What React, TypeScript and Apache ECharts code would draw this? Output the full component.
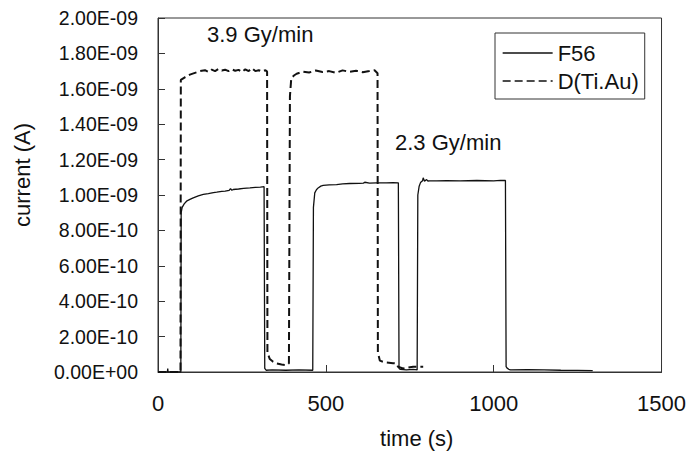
import React, { useEffect, useRef } from "react";
import * as echarts from "echarts";

// Time axis (s)
const xTicks = [0, 500, 1000, 1500];
// Current in nA (label shown in A)
const yMin = 0;
const yMax = 2;
const yInterval = 0.2;

// F56 (solid)
const f56Time = [
  0, 28, 29, 30, 68, 69, 72, 78, 85, 95, 105, 120, 135, 150, 165, 175, 190, 200, 212, 216, 220, 224, 240, 255,
  274, 290, 305, 316, 318, 322, 340, 380, 420, 461, 463, 467, 472, 477, 485, 492, 510, 532, 550, 571, 600, 612,
  616, 630, 651, 680, 700, 716, 718, 722, 740, 760, 772, 774, 778, 782, 788, 790, 794, 800, 804, 810, 830, 860,
  900, 950, 1000, 1020, 1035, 1037, 1040, 1045, 1050, 1100, 1150, 1200, 1250, 1295,
];
const f56Current = [
  0, 0, 0.02, 0, 0, 0.9, 0.93, 0.95, 0.965, 0.975, 0.984, 0.995, 1.003, 1.008, 1.014, 1.016, 1.02, 1.022, 1.026,
  1.036, 1.027, 1.031, 1.034, 1.037, 1.04, 1.043, 1.045, 1.047, 0.02, 0.01, 0.012, 0.01, 0.012, 0.01, 0.93, 1.012,
  1.03, 1.04, 1.05, 1.054, 1.057, 1.059, 1.063, 1.065, 1.066, 1.067, 1.072, 1.067, 1.068, 1.069, 1.07, 1.069,
  0.02, 0.015, 0.012, 0.015, 0.012, 1.0, 1.05, 1.07, 1.08, 1.097, 1.078, 1.087, 1.079, 1.08, 1.08, 1.081, 1.08,
  1.082, 1.08, 1.083, 1.082, 0.03, 0.022, 0.015, 0.012, 0.013, 0.012, 0.01, 0.009, 0.008,
];

// D(Ti.Au) (dashed)
const dTime = [
  0, 67, 68, 80, 95, 110, 125, 140, 150, 160, 170, 180, 190, 200, 210, 220, 230, 240, 250, 260, 270, 280, 290,
  300, 310, 320, 325, 326, 333, 343, 353, 368, 383, 390, 393, 397, 405, 413, 432, 450, 470, 490, 510, 530, 550,
  570, 590, 610, 630, 645, 654, 655, 661, 670, 681, 700, 710, 715, 730, 745, 760, 775, 790,
];
const dCurrent = [
  0, 0, 1.65, 1.665, 1.68, 1.69, 1.7, 1.705, 1.695, 1.708, 1.7, 1.712, 1.703, 1.708, 1.7, 1.71, 1.702, 1.707,
  1.695, 1.71, 1.7, 1.716, 1.7, 1.705, 1.698, 1.705, 1.697, 0.11, 0.073, 0.058, 0.049, 0.042, 0.039, 0.05, 1.557,
  1.66, 1.675, 1.685, 1.697, 1.692, 1.703, 1.695, 1.7, 1.69, 1.704, 1.696, 1.702, 1.694, 1.7, 1.705, 1.688, 0.11,
  0.064, 0.058, 0.054, 0.05, 0.048, 0.03, 0.02, 0.025, 0.03, 0.03, 0.03,
];

const annotations = [
  { text: "3.9 Gy/min", x: 207, y: 34.5 },
  { text: "2.3 Gy/min", x: 395, y: 142.5 },
];

const FONT = "'Liberation Sans', Arial, Helvetica, sans-serif";
const INK = "#111";

function fmtSci(nA: number): string {
  const v = nA * 1e-9;
  const [m, e] = v.toExponential(2).split("e");
  const n = parseInt(e, 10);
  return `${m}E${n < 0 ? "-" : "+"}${String(Math.abs(n)).padStart(2, "0")}`;
}

function pairs(t: number[], v: number[]) {
  return t.map((x, i) => [x, v[i]]);
}

export default function App() {
  const ref = useRef<HTMLDivElement>(null);
  useEffect(() => {
    if (!ref.current) return;
    const chart = echarts.init(ref.current, undefined, { renderer: "svg" });
    chart.setOption({
      animation: false,
      backgroundColor: "#fff",
      grid: {
        left: 158,
        top: 18,
        right: 27,
        bottom: 81,
        show: true,
        borderColor: "#333",
        borderWidth: 1,
      },
      xAxis: {
        type: "value",
        min: xTicks[0],
        max: xTicks[xTicks.length - 1],
        interval: 500,
        name: "time (s)",
        nameLocation: "middle",
        nameGap: 55,
        nameTextStyle: { fontFamily: FONT, fontSize: 22, color: INK, padding: [0, 0, 0, 14] },
        axisLine: { lineStyle: { color: "#333", width: 1 } },
        axisTick: { inside: true, length: 7, lineStyle: { color: "#333" } },
        axisLabel: { fontFamily: FONT, fontSize: 22, color: INK, margin: 20, formatter: (v: number) => String(v) },
        splitLine: { show: false },
      },
      yAxis: {
        type: "value",
        min: yMin,
        max: yMax,
        interval: yInterval,
        name: "current (A)",
        nameLocation: "middle",
        nameGap: 125,
        nameTextStyle: { fontFamily: FONT, fontSize: 22, color: INK, padding: [0, 0, 0, 40] },
        axisLine: { show: true, lineStyle: { color: "#333", width: 1 } },
        axisTick: { show: true, inside: true, length: 7, lineStyle: { color: "#333" } },
        axisLabel: { fontFamily: FONT, fontSize: 19.5, color: INK, margin: 20, formatter: fmtSci },
        splitLine: { show: false },
      },
      legend: {
        left: 495,
        top: 33,
        orient: "vertical",
        borderColor: "#333",
        borderWidth: 1,
        padding: [9, 6, 7, 7],
        itemWidth: 50,
        itemHeight: 14,
        itemGap: 6,
        itemStyle: { opacity: 0 },
        lineStyle: { width: 1.3 },
        textStyle: { fontFamily: FONT, fontSize: 22, color: INK, lineHeight: 22 },
        data: ["F56", "D(Ti.Au)"],
      },
      graphic: annotations.map((a) => ({
        type: "text",
        x: a.x,
        y: a.y,
        style: {
          text: a.text,
          fontFamily: FONT,
          fontSize: 22,
          fill: INK,
          align: "left",
          verticalAlign: "middle",
        },
      })),
      series: [
        {
          name: "F56",
          type: "line",
          data: pairs(f56Time, f56Current),
          showSymbol: false,
          symbol: "none",
          lineStyle: { color: INK, width: 1.3 },
          itemStyle: { color: INK },
        },
        {
          name: "D(Ti.Au)",
          type: "line",
          data: pairs(dTime, dCurrent),
          showSymbol: false,
          symbol: "none",
          lineStyle: { color: INK, width: 2, type: [8, 4] },
          itemStyle: { color: INK },
        },
      ],
    });
    return () => chart.dispose();
  }, []);
  return (
    <div
      ref={ref}
      style={{ position: "fixed", left: 0, top: 0, width: 689, height: 454, background: "#fff" }}
    />
  );
}
